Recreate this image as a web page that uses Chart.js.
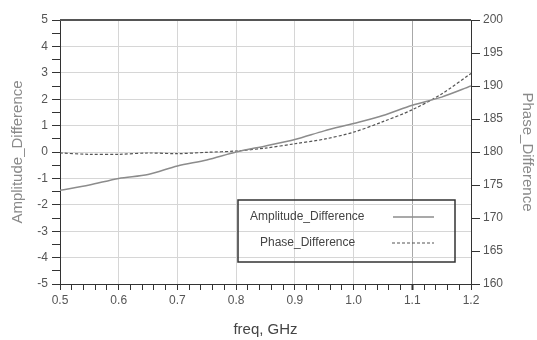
<!DOCTYPE html>
<html>
<head>
  <meta charset="UTF-8" />
  <title>Amplitude / Phase Difference</title>
  <script src="https://cdn.jsdelivr.net/npm/chart.js"></script>
  <style>
    body { margin: 0; background: #fff; }
  </style>
</head>
<body>
  <canvas id="diffChart" width="537" height="340"></canvas>

  <script>
    // values
    const freq = [0.5, 0.55, 0.6, 0.65, 0.7, 0.75, 0.8, 0.85, 0.9, 0.95, 1.0, 1.05, 1.1, 1.15, 1.2];
    const amplitudeDiff = [-1.45, -1.25, -1.0, -0.85, -0.53, -0.3, 0.0, 0.23, 0.47, 0.8, 1.08, 1.38, 1.77, 2.08, 2.5];
    const phaseDiff = [179.85, 179.65, 179.65, 179.85, 179.75, 179.95, 180.15, 180.6, 181.25, 181.95, 183.0, 184.6, 186.4, 188.8, 191.9];
    const legendLabels = ['Amplitude_Difference', 'Phase_Difference'];

    const FONT = "'Liberation Sans', Arial, sans-serif";
    const isMultiple = (v, step) => Math.abs(v / step - Math.round(v / step)) < 1e-6;

    // top frame line + boxed legend inside the plot
    const framePlugin = {
      id: 'frame',
      afterDraw(chart) {
        const ctx = chart.ctx;
        const a = chart.chartArea;
        ctx.save();
        ctx.strokeStyle = '#555';
        ctx.lineWidth = 2;
        ctx.beginPath();
        ctx.moveTo(a.left, a.top);
        ctx.lineTo(a.right, a.top);
        ctx.stroke();

        const bx = a.left + 178, by = a.top + 180, bw = 217, bh = 62;
        ctx.strokeStyle = '#333';
        ctx.lineWidth = 1.5;
        ctx.strokeRect(bx, by, bw, bh);

        ctx.font = '12px ' + FONT;
        ctx.fillStyle = '#444';
        ctx.textBaseline = 'middle';
        ctx.fillText(legendLabels[0], bx + 12, by + 17);
        ctx.fillText(legendLabels[1], bx + 22, by + 43);

        ctx.strokeStyle = '#8c8c8c';
        ctx.lineWidth = 1.5;
        ctx.beginPath();
        ctx.moveTo(bx + 155, by + 17);
        ctx.lineTo(bx + 196, by + 17);
        ctx.stroke();

        ctx.strokeStyle = '#555';
        ctx.lineWidth = 1.2;
        ctx.setLineDash([3, 2]);
        ctx.beginPath();
        ctx.moveTo(bx + 154, by + 43);
        ctx.lineTo(bx + 196, by + 43);
        ctx.stroke();
        ctx.restore();
      }
    };

    const ctx = document.getElementById('diffChart').getContext('2d');
    new Chart(ctx, {
      type: 'line',
      data: {
        datasets: [
          {
            label: legendLabels[0],
            data: freq.map((f, i) => ({ x: f, y: amplitudeDiff[i] })),
            yAxisID: 'y',
            borderColor: '#8c8c8c',
            borderWidth: 1.5,
            pointRadius: 0,
            tension: 0.3,
            fill: false,
          },
          {
            label: legendLabels[1],
            data: freq.map((f, i) => ({ x: f, y: phaseDiff[i] })),
            yAxisID: 'y1',
            borderColor: '#555',
            borderWidth: 1.2,
            borderDash: [3, 2],
            pointRadius: 0,
            tension: 0.3,
            fill: false,
          }
        ]
      },
      options: {
        responsive: false,
        animation: false,
        layout: { padding: { top: 20, left: 0, right: 0, bottom: 0 } },
        plugins: {
          legend: { display: false },
          tooltip: { enabled: false },
        },
        scales: {
          x: {
            type: 'linear',
            min: 0.5,
            max: 1.2,
            afterFit: (s) => { s.height = 56; },
            border: { color: '#333', width: 1 },
            grid: {
              color: (c) => {
                const v = c.tick.value;
                if (!isMultiple(v, 0.1)) return 'rgba(0,0,0,0)';
                return Math.abs(v - 1.1) < 1e-6 ? '#a8a8a8' : '#d6d6d6';
              },
              tickColor: '#333',
              tickWidth: (c) => Math.abs(c.tick.value - 1.1) < 1e-6 ? 2 : 1,
              tickLength: 6,
            },
            ticks: {
              stepSize: 0.02,
              maxTicksLimit: 100,
              autoSkip: false,
              maxRotation: 0,
              padding: 3,
              color: '#555',
              font: { family: FONT, size: 12 },
              callback: (v) => isMultiple(v, 0.1) ? v.toFixed(1) : '',
            },
            title: {
              display: true,
              text: 'freq, GHz',
              color: '#444',
              font: { family: FONT, size: 15 },
              padding: { top: 0, bottom: 1 },
            },
          },
          y: {
            position: 'left',
            min: -5,
            max: 5,
            afterFit: (s) => { s.width = 60; },
            border: { color: '#333', width: 1 },
            grid: {
              color: (c) => isMultiple(c.tick.value, 1) ? '#d6d6d6' : 'rgba(0,0,0,0)',
              tickColor: '#333',
              tickLength: 8,
            },
            ticks: {
              stepSize: 0.5,
              maxTicksLimit: 100,
              autoSkip: false,
              padding: 4,
              color: '#555',
              font: { family: FONT, size: 12 },
              callback: (v) => isMultiple(v, 1) ? String(v) : '',
            },
            title: {
              display: true,
              text: 'Amplitude_Difference',
              color: '#8a8a8a',
              font: { family: FONT, size: 15 },
              padding: { top: 9, bottom: 0 },
            },
          },
          y1: {
            position: 'right',
            min: 160,
            max: 200,
            afterFit: (s) => { s.width = 66; },
            border: { color: '#333', width: 1 },
            grid: {
              drawOnChartArea: false,
              tickColor: '#333',
              tickLength: 9,
            },
            ticks: {
              stepSize: 5,
              padding: 3,
              color: '#555',
              font: { family: FONT, size: 12 },
            },
            title: {
              display: true,
              text: 'Phase_Difference',
              color: '#8a8a8a',
              font: { family: FONT, size: 15 },
              padding: { top: 1, bottom: 0 },
            },
          },
        },
      },
      plugins: [framePlugin],
    });
  </script>
</body>
</html>
